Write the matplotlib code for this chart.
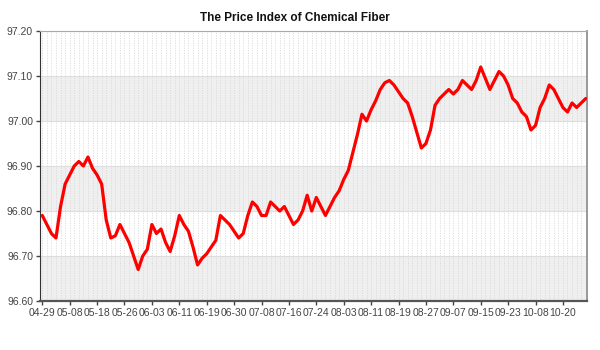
# -*- coding: utf-8 -*-

import numpy as np
import matplotlib
matplotlib.use('Agg')
import matplotlib.pyplot as plt

plt.rcParams['font.family'] = ['Liberation Sans', 'DejaVu Sans']

# price index, one value per trading day (04-29 .. 10-2x)
price = [96.79, 96.77, 96.75, 96.74, 96.81, 96.86, 96.88, 96.90, 96.91, 96.90,
         96.92, 96.895, 96.88, 96.86, 96.78, 96.74, 96.745, 96.77, 96.75, 96.73,
         96.70, 96.67, 96.70, 96.715, 96.77, 96.75, 96.76, 96.73, 96.71, 96.745,
         96.79, 96.77, 96.755, 96.72, 96.68, 96.695, 96.705, 96.72, 96.735, 96.79,
         96.78, 96.77, 96.755, 96.74, 96.75, 96.79, 96.82, 96.81, 96.79, 96.79,
         96.82, 96.81, 96.80, 96.81, 96.79, 96.77, 96.78, 96.80, 96.835, 96.80,
         96.83, 96.81, 96.79, 96.81, 96.83, 96.845, 96.87, 96.89, 96.93, 96.97,
         97.015, 97.00, 97.025, 97.045, 97.07, 97.085, 97.09, 97.08, 97.065, 97.05,
         97.04, 97.01, 96.975, 96.94, 96.95, 96.98, 97.035, 97.05, 97.06, 97.07,
         97.06, 97.07, 97.09, 97.08, 97.07, 97.09, 97.12, 97.095, 97.07, 97.09,
         97.11, 97.10, 97.08, 97.05, 97.04, 97.02, 97.01, 96.98, 96.99, 97.03,
         97.05, 97.08, 97.07, 97.05, 97.03, 97.02, 97.04, 97.03, 97.04, 97.05]

tick_labels = ['04-29', '05-08', '05-18', '05-26', '06-03', '06-11', '06-19',
               '06-30', '07-08', '07-16', '07-24', '08-03', '08-11', '08-19',
               '08-27', '09-07', '09-15', '09-23', '10-08', '10-20']

y_ticks = [96.60, 96.70, 96.80, 96.90, 97.00, 97.10, 97.20]

x = np.arange(len(price))

fig = plt.figure(figsize=(6, 3.5), dpi=100)
ax = fig.add_axes([40/600, 1 - 301/350, 547/600, 270/350])

# alternating bands
for lo in (96.60, 96.80, 97.00):
    ax.axhspan(lo, lo + 0.1, color='#efefef', zorder=0, lw=0)

# one dashed vertical line per day
for xi in x:
    ax.axvline(xi, color='#dadada', lw=0.6, ls=(0, (1.5, 1.5)), zorder=1)
for yv in y_ticks:
    ax.axhline(yv, color='#dddddd', lw=0.8, zorder=1)

ax.plot(x, price, color='#ff0000', lw=2.3, solid_joinstyle='round',
        solid_capstyle='round', antialiased=True, zorder=3)

ax.set_xlim(-0.5, len(price) - 0.73)
ax.set_ylim(96.60, 97.20)
ax.set_yticks(y_ticks)
ax.set_yticklabels(['%.2f' % v for v in y_ticks])
ax.set_xticks(x[::6])
ax.set_xticklabels(tick_labels)

ax.tick_params(axis='both', labelsize=7.5, colors='#444444', length=3, width=1)
ax.tick_params(axis='x', pad=2)
ax.tick_params(axis='y', pad=2)

ax.spines['left'].set_color('#333333')
ax.spines['bottom'].set_color('#555555')
ax.spines['bottom'].set_linewidth(1.6)
ax.spines['top'].set_color('#aaaaaa')
ax.spines['right'].set_color('#999999')
ax.spines['right'].set_linewidth(1.4)

fig.text(295/600, 1 - 18/350, 'The Price Index of Chemical Fiber',
         ha='center', va='center', fontsize=8.5, fontweight='bold', color='#111111')

fig.savefig('out.png', dpi=100)
